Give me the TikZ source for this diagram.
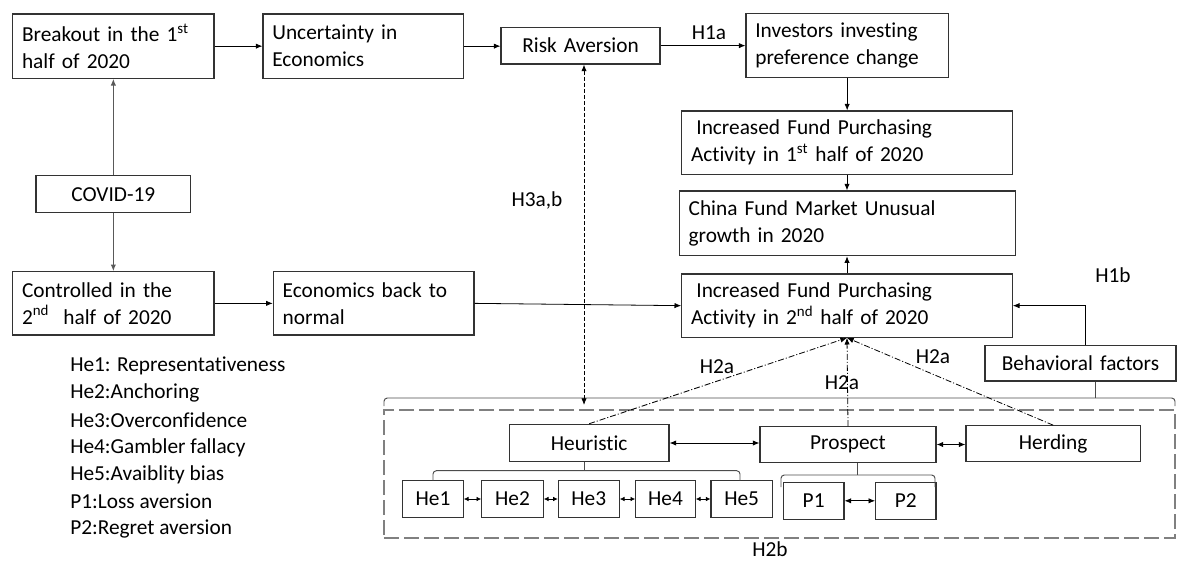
\documentclass[tikz,border=0pt]{standalone}
\usepackage{fontspec}
\setmainfont{Carlito}[RawFeature={-liga;-clig;-calt;-dlig}]
\usetikzlibrary{arrows.meta}
\newcommand\mybox[7]{%
  \pgfmathsetmacro\myW{(#5-#3)*0.75}%
  \pgfmathsetmacro\myH{(#6-#4)*0.75}%
  \pgfmathsetmacro\myT{(#5-#3)*0.75-14}%
  \node[#1, minimum width=\myW pt, minimum height=\myH pt, text width=\myT pt] (#2) at ({(#3+#5)/2},{(#4+#6)/2}) {#7};%
}
\tikzset{
  base/.style={font=\fontsize{16}{20.25}\selectfont},
  lbox/.style={base, draw=black!80, line width=0.8pt, inner xsep=7pt, inner ysep=2pt, align=left},
  cbox/.style={base, draw=black!80, line width=0.8pt, inner xsep=7pt, inner ysep=2pt, align=center},
  lab/.style={base, inner sep=0pt},
  arr/.style={-{Latex[length=5pt,width=4pt]}, line width=0.6pt},
  garr/.style={-{Latex[length=5pt,width=4pt]}, line width=0.8pt, draw=black!65},
  darr/.style={{Latex[length=5pt,width=4pt]}-{Latex[length=5pt,width=4pt]}, line width=0.6pt},
  sarr/.style={{Latex[length=3.5pt,width=3.5pt]}-{Latex[length=3.5pt,width=3.5pt]}, line width=0.6pt},
  dashdbl/.style={{Latex[length=5pt,width=4pt]}-{Latex[length=5pt,width=4pt]}, line width=0.6pt, dash pattern=on 3pt off 1.5pt},
  dd/.style={dash pattern=on 4.5pt off 1.5pt on 0.8pt off 1.5pt, line width=0.6pt, -{Latex[length=5pt,width=4pt]}},
  brc/.style={line width=0.7pt, draw=black!70, rounded corners=2.5pt},
  gbox/.style={draw=black!50, line width=1.1pt, dash pattern=on 11pt off 4pt},
}
\begin{document}
\begin{tikzpicture}[x=0.75pt,y=-0.75pt]
\useasboundingbox (0,0) rectangle (1178,561);
% boxes
\mybox{lbox}{brk}{12.7}{14}{214}{78.3}{Breakout in the 1\textsuperscript{st}\\half of 2020}
\mybox{lbox}{unc}{263}{14}{463.5}{78.3}{Uncertainty in\\Economics}
\mybox{cbox}{risk}{501}{27.3}{660}{64}{Risk Aversion}
\mybox{lbox}{inv}{746}{13.3}{948.3}{77.3}{Investors investing\\preference change}
\mybox{lbox}{inc1}{681.7}{111}{1012.3}{174.3}{\hspace{4pt}Increased Fund Purchasing\\Activity in 1\textsuperscript{st} half of 2020}
\mybox{lbox}{china}{679.3}{191}{1015.7}{255.7}{China Fund Market Unusual\\growth in 2020}
\mybox{lbox}{inc2}{681.7}{274}{1012.3}{337.3}{\hspace{4pt}Increased Fund Purchasing\\Activity in 2\textsuperscript{nd} half of 2020}
\mybox{cbox}{beh}{985}{345.7}{1176}{381}{Behavioral factors}
\mybox{cbox}{covid}{36}{175.7}{190.7}{212.7}{COVID-19}
\mybox{lbox}{ctrl}{12.7}{271.7}{214}{335}{Controlled in the\\2\textsuperscript{nd}\ \ half of 2020}
\mybox{lbox}{eco}{273.3}{271.7}{474}{335}{Economics back to\\normal}
\mybox{cbox}{heu}{509.3}{424.3}{669}{461.7}{Heuristic}
\mybox{cbox}{pro}{760}{426.7}{936}{462.3}{Prospect}
\mybox{cbox}{her}{966}{425.7}{1140.3}{461.7}{Herding}
\mybox{cbox}{he1}{402.7}{480.7}{463.3}{517.3}{He1}
\mybox{cbox}{he2}{481.7}{480.7}{543.3}{517.3}{He2}
\mybox{cbox}{he3}{558.3}{480.7}{619.3}{517.3}{He3}
\mybox{cbox}{he4}{635.7}{480.7}{695.3}{517.3}{He4}
\mybox{cbox}{he5}{711}{480.7}{772.3}{517.3}{He5}
\mybox{cbox}{p1}{783.3}{482.3}{844}{519.3}{P1}
\mybox{cbox}{p2}{875.7}{482.3}{936}{519.3}{P2}
% dashed frame and braces
\node[gbox, minimum width=593.25pt, minimum height=96pt, inner sep=0pt] (frame) at (779.5,474) {};
\draw[brc] (384,406) -- (384,398) -- (1175,398) -- (1175,406);
\coordinate (bt) at (1095,398);
\draw[brc] (bt) -- (beh.south -| bt);
\draw[brc] (433,480.7) -- (433,470.7) -- (740,470.7) -- (740,480.7);
\coordinate (ht) at (584,470.7);
\draw[brc] (ht) -- (heu.south -| ht);
\draw[brc] (781,487) -- (781,475) -- (935,475) -- (935,487);
\coordinate (pt) at (857,475);
\draw[brc] (pt) -- (pro.south -| pt);
% labels
\node[lab] (h1a) at (709,33) {H1a};
\node[lab] (h1b) at (1113,275) {H1b};
\node[lab] (h3) at (537,200) {H3a,b};
\node[lab] (h2a1) at (717,367) {H2a};
\node[lab] (h2a2) at (842,383) {H2a};
\node[lab] (h2a3) at (933,357) {H2a};
\node[lab] (h2b) at (770,549) {H2b};
% legend
\node[lab, anchor=west] (lg1) at (70,366) {He1: Representativeness};
\node[lab, anchor=west] (lg2) at (70,393.3) {He2:Anchoring};
\node[lab, anchor=west] (lg3) at (70,420.5) {He3:Overconfidence};
\node[lab, anchor=west] (lg4) at (70,447.5) {He4:Gambler fallacy};
\node[lab, anchor=west] (lg5) at (70,474.5) {He5:Avaiblity bias};
\node[lab, anchor=west] (lg6) at (70,501.7) {P1:Loss aversion};
\node[lab, anchor=west] (lg7) at (70,529) {P2:Regret aversion};
% connectors
\draw[arr] (brk.east) -- (unc.west);
\draw[arr] (unc.east) -- (unc.east -| risk.west);
\draw[arr] (risk.east) -- (risk.east -| inv.west);
\draw[arr] (inv.south) -- (inv.south |- inc1.north);
\draw[arr] (inc1.south) -- (inc1.south |- china.north);
\draw[arr] (inc2.north) -- (inc2.north |- china.south);
\draw[garr] (covid.north) -- (brk.south);
\draw[garr] (covid.south) -- (ctrl.north);
\draw[arr] (ctrl.east) -- (eco.west);
\draw[arr] (eco.east) -- (inc2.west);
\coordinate (dv) at (584,405);
\draw[dashdbl] (risk.south -| dv) -- (dv);
\coordinate (bx) at (1085,0);
\draw[arr] (beh.north -| bx) |- (inc2.east);
\draw[darr] (heu.east) -- (heu.east -| pro.west);
\draw[darr] (pro.east) -- (pro.east -| her.west);
\draw[sarr] (he1.east) -- (he2.west);
\draw[sarr] (he2.east) -- (he3.west);
\draw[sarr] (he3.east) -- (he4.west);
\draw[sarr] (he4.east) -- (he5.west);
\draw[darr] (p1.east) -- (p2.west);
\draw[dd] (heu.north) -- (inc2.south);
\draw[dd] (pro.north) -- (inc2.south);
\draw[dd] (her.north) -- (inc2.south);
\end{tikzpicture}
\end{document}
